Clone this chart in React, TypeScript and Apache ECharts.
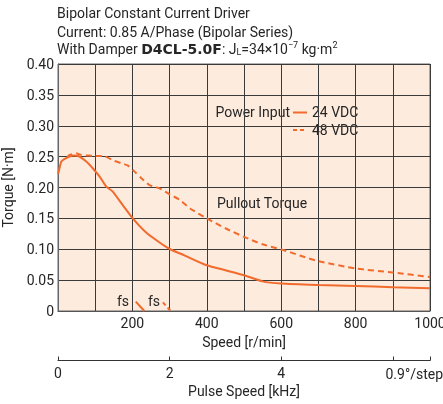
import React, { useEffect, useRef } from "react";
import * as echarts from "echarts";

const speed24 = [0, 2, 9, 22, 40, 53, 76, 95, 112, 130, 146, 174, 201, 237, 273, 302, 340, 400, 450, 500, 550, 600, 700, 800, 900, 1000];
const torque24 = [0.222, 0.2257, 0.242, 0.2477, 0.252, 0.2515, 0.242, 0.23, 0.2175, 0.2013, 0.194, 0.1716, 0.15, 0.127, 0.111, 0.1, 0.09, 0.074, 0.066, 0.058, 0.048, 0.0445, 0.0422, 0.0406, 0.0385, 0.0369];

const speed48 = [25, 31, 49, 62, 101, 125, 150, 170, 188, 206, 224, 246, 273, 300, 327, 355, 400, 450, 500, 550, 600, 650, 700, 800, 900, 1000];
const torque48 = [0.249, 0.2526, 0.2555, 0.2527, 0.251, 0.2505, 0.2435, 0.2393, 0.2354, 0.2257, 0.215, 0.204, 0.1987, 0.189, 0.18, 0.166, 0.15, 0.134, 0.12, 0.108, 0.0997, 0.09, 0.0807, 0.0688, 0.0623, 0.0552];

const fs24 = [[209, 0.0153], [232, 0]];
const fs48 = [[282, 0.014], [303, 0]];

const speedLabels = [200, 400, 600, 800, 1000];
const pulseLabels = [0, 2, 4];

const ORANGE = "#f26a2c";
const FONT = "Roboto";
const INK = "#262626";

export default function App() {
  const ref = useRef<HTMLDivElement>(null);
  useEffect(() => {
    if (!ref.current) return;
    const chart = echarts.init(ref.current, undefined, { renderer: "svg" });
    const txt = { fontFamily: FONT, fontSize: 14, color: INK };
    const f = `14px ${FONT}`;
    chart.setOption({
      animation: false,
      textStyle: { fontFamily: FONT },
      grid: {
        left: 58,
        right: 13,
        top: 64,
        bottom: 93,
        show: true,
        backgroundColor: "#fdebdd",
        borderColor: "#666",
        borderWidth: 1,
        outerBoundsMode: "none",
        containLabel: false,
      },
      xAxis: [
        {
          type: "value",
          min: 0,
          max: 1000,
          interval: 100,
          axisLine: { show: true, lineStyle: { color: "#555" } },
          axisTick: { show: false },
          splitLine: { show: true, lineStyle: { color: "#3a3a3a", width: 1 } },
          axisLabel: {
            ...txt,
            margin: 5,
            formatter: (v: number) => (speedLabels.includes(v) ? String(v) : ""),
            showMinLabel: true,
            showMaxLabel: true,
          },
          name: "Speed [r/min]",
          nameLocation: "middle",
          nameGap: 22,
          nameTextStyle: txt,
        },
        {
          type: "value",
          position: "bottom",
          offset: 49.5,
          min: 0,
          max: 1000 / 150,
          interval: 2,
          axisLine: { show: true, lineStyle: { color: "#333" } },
          axisTick: { show: true, inside: true, length: 4, lineStyle: { color: "#333" } },
          splitLine: { show: false },
          axisLabel: {
            ...txt,
            margin: 5,
            formatter: (v: number) => (pulseLabels.includes(v) ? String(v) : ""),
          },
          name: "Pulse Speed [kHz]",
          nameLocation: "middle",
          nameGap: 22,
          nameTextStyle: txt,
        },
      ],
      yAxis: {
        type: "value",
        min: 0,
        max: 0.4,
        interval: 0.05,
        axisLine: { show: true, lineStyle: { color: "#666" } },
        axisTick: { show: false },
        splitLine: { show: true, lineStyle: { color: "#3a3a3a", width: 1 } },
        axisLabel: {
          ...txt,
          margin: 4,
          formatter: (v: number) => (v === 0 ? "0" : v.toFixed(2)),
        },
        name: "Torque [N·m]",
        nameLocation: "middle",
        nameGap: 43,
        nameRotate: 90,
        nameTextStyle: txt,
      },
      series: [
        {
          type: "line",
          xAxisIndex: 0,
          data: speed24.map((s, i) => [s, torque24[i]]),
          showSymbol: false,
          smooth: 0.2,
          lineStyle: { color: ORANGE, width: 2 },
        },
        {
          type: "line",
          xAxisIndex: 0,
          data: speed48.map((s, i) => [s, torque48[i]]),
          showSymbol: false,
          smooth: 0.2,
          lineStyle: { color: ORANGE, width: 2, type: [6, 4] },
        },
        {
          type: "line",
          xAxisIndex: 0,
          data: fs24,
          showSymbol: false,
          lineStyle: { color: ORANGE, width: 2 },
        },
        {
          type: "line",
          xAxisIndex: 0,
          data: fs48,
          showSymbol: false,
          lineStyle: { color: ORANGE, width: 2, type: [4, 3] },
        },
      ],
      graphic: [
        { type: "text", left: 57, top: 6, style: { text: "Bipolar Constant Current Driver", font: f, fill: INK } },
        { type: "text", left: 57, top: 25, style: { text: "Current: 0.85 A/Phase (Bipolar Series)", font: f, fill: INK } },
        {
          type: "text",
          left: 57,
          top: 40,
          style: {
            text: "With Damper {b|D4CL-5.0F}: J{sub|L}=34×10{sup|−7} kg·m{sup|2}",
            fontFamily: FONT,
            fontSize: 14,
            fill: INK,
            rich: {
              b: { fontFamily: "DejaVu Sans", fontWeight: "bold", fontSize: 14, fill: INK, lineHeight: 18 },
              sub: { fontFamily: FONT, fontSize: 9, fill: INK, verticalAlign: "bottom", lineHeight: 18, padding: [0, 0, 2, 0] },
              sup: { fontFamily: FONT, fontSize: 9, fill: INK, verticalAlign: "top", lineHeight: 18 },
            },
          },
        },
        { type: "text", x: 290, y: 112, style: { text: "Power Input", font: f, fill: INK, align: "right", verticalAlign: "middle" } },
        { type: "line", shape: { x1: 293, y1: 112.5, x2: 307, y2: 112.5 }, style: { stroke: ORANGE, lineWidth: 2 } },
        { type: "text", x: 312, y: 112, style: { text: "24 VDC", font: f, fill: INK, verticalAlign: "middle" } },
        { type: "line", shape: { x1: 293, y1: 130, x2: 307, y2: 130 }, style: { stroke: ORANGE, lineWidth: 2, lineDash: [4, 3] } },
        { type: "text", x: 312, y: 130, style: { text: "48 VDC", font: f, fill: INK, verticalAlign: "middle" } },
        { type: "text", x: 217, y: 203, style: { text: "Pullout Torque", font: f, fill: INK, verticalAlign: "middle" } },
        { type: "text", x: 129, y: 301, style: { text: "fs", font: f, fill: INK, align: "right", verticalAlign: "middle" } },
        { type: "text", x: 160, y: 301, style: { text: "fs", font: f, fill: INK, align: "right", verticalAlign: "middle" } },
        { type: "text", x: 443, y: 374, style: { text: "0.9°/step", font: f, fill: INK, align: "right", verticalAlign: "middle" } },
      ],
    });
    return () => chart.dispose();
  }, []);
  return <div ref={ref} style={{ position: "fixed", left: 0, top: 0, width: 443, height: 404 }} />;
}
